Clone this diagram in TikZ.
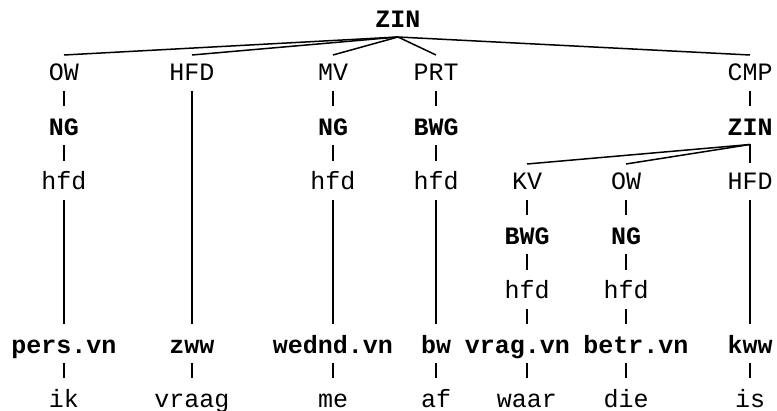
\documentclass[tikz,border=0pt]{standalone}
\usepackage{fontspec}
\setmainfont{Liberation Mono}
\newcommand\treeedge[2]{\draw[link] ([yshift=-10pt]#1.south) -- ([yshift=14pt]#1.south |- #2.north);}
\newcommand\fanedge[2]{\draw[link] ([yshift=-9pt]#1.south) -- ([yshift=11pt]#2.north);}
\begin{document}
\begin{tikzpicture}[x=1pt,y=1pt,
  lbl/.style={anchor=base, inner sep=0pt, outer sep=0pt, text height=15pt, text depth=0pt,
              font=\fontsize{25}{30}\selectfont},
  fn/.style={lbl},
  cat/.style={lbl, font=\fontsize{25}{30}\selectfont\bfseries},
  link/.style={line width=1.5pt, line cap=butt}]
\useasboundingbox (0,0) rectangle (777,410);

% clause
\node[cat] (zin) at (398,382) {ZIN};

% functions of the main clause
\node[fn] (ow)   at (64,329)  {OW};
\node[fn] (hfdA) at (192,329) {HFD};
\node[fn] (mv)   at (333,329) {MV};
\node[fn] (prt)  at (436,329) {PRT};
\node[fn] (cmp)  at (750,329) {CMP};

% phrases
\node[cat] (ngA)  at (64,274.5)  {NG};
\node[cat] (ngB)  at (333,274.5) {NG};
\node[cat] (bwgA) at (436,274.5) {BWG};
\node[cat] (zinB) at (750,274.5) {ZIN};

% heads and functions of the subordinate clause
\node[fn] (hdA) at (64,220)  {hfd};
\node[fn] (hdB) at (333,220) {hfd};
\node[fn] (hdC) at (436,220) {hfd};
\node[fn] (kv)  at (527,220) {KV};
\node[fn] (owB) at (626,220) {OW};
\node[fn] (hfdB) at (750,220) {HFD};

\node[cat] (bwgB) at (527,165.5) {BWG};
\node[cat] (ngC)  at (626,165.5) {NG};

\node[fn] (hdD) at (527,111) {hfd};
\node[fn] (hdE) at (626,111) {hfd};

% parts of speech
\node[cat] (pers)  at (64,56.5)    {pers.vn};
\node[cat] (zww)   at (192,56.5)   {zww};
\node[cat] (wednd) at (333,56.5)   {wednd.vn};
\node[cat] (bw)    at (436,56.5)   {bw};
\node[cat] (vrag)  at (517.5,56.5) {vrag.vn};
\node[cat] (betr)  at (636,56.5)   {betr.vn};
\node[cat] (kww)   at (750,56.5)   {kww};

% words
\node[fn] (ik)    at (64,3)  {ik};
\node[fn] (vraag) at (192,3) {vraag};
\node[fn] (me)    at (333,3) {me};
\node[fn] (af)    at (436,3) {af};
\node[fn] (waar)  at (527,3) {waar};
\node[fn] (die)   at (626,3) {die};
\node[fn] (is)    at (750,3) {is};

% branches of the main clause
\fanedge{zin}{ow}
\fanedge{zin}{hfdA}
\fanedge{zin}{mv}
\fanedge{zin}{prt}
\fanedge{zin}{cmp}

% branches of the subordinate clause
\fanedge{zinB}{kv}
\fanedge{zinB}{owB}
\draw[link] ([yshift=-9pt]zinB.south) -- ([yshift=12pt]hfdB.north);

% vertical links
\treeedge{ow}{ngA}
\treeedge{ngA}{hdA}
\treeedge{hdA}{pers}
\treeedge{pers}{ik}

\treeedge{hfdA}{zww}
\treeedge{zww}{vraag}

\treeedge{mv}{ngB}
\treeedge{ngB}{hdB}
\treeedge{hdB}{wednd}
\treeedge{wednd}{me}

\treeedge{prt}{bwgA}
\treeedge{bwgA}{hdC}
\treeedge{hdC}{bw}
\treeedge{bw}{af}

\treeedge{cmp}{zinB}

\treeedge{kv}{bwgB}
\treeedge{bwgB}{hdD}
\treeedge{hdD}{vrag}
\draw[link] ([yshift=-10pt]waar.north |- vrag.south) -- ([yshift=14pt]waar.north);

\treeedge{owB}{ngC}
\treeedge{ngC}{hdE}
\treeedge{hdE}{betr}
\draw[link] ([yshift=-10pt]die.north |- betr.south) -- ([yshift=14pt]die.north);

\treeedge{hfdB}{kww}
\treeedge{kww}{is}
\end{tikzpicture}
\end{document}
